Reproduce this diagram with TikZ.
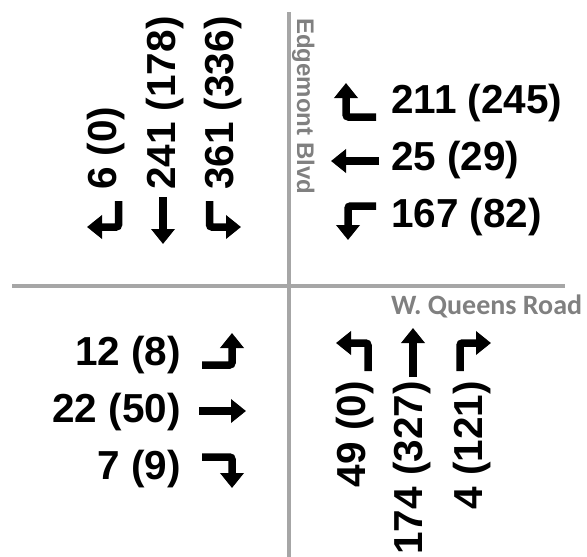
\documentclass[tikz,border=0pt]{standalone}
\usepackage{fontspec}
\setmainfont{Liberation Sans}
\newfontfamily\calfont{Carlito}
\usetikzlibrary{arrows.meta}
\definecolor{roadgray}{HTML}{A6A6A6}
\definecolor{labelgray}{HTML}{808080}
\tikzset{
  num/.style={font=\fontsize{40.5}{40.5}\selectfont\bfseries, inner sep=0pt},
  road/.style={draw=roadgray, line width=4pt},
  arr/.style={line width=7.5pt, -{Triangle[width=23pt,length=15pt]}, rounded corners=2.5pt},
}
\begin{document}
\begin{tikzpicture}[x=1pt,y=-1pt]
\useasboundingbox (0,0) rectangle (587,557);
% roads
\coordinate (vt) at (288.5,12);
\coordinate (vb) at (288.5,557);
\coordinate (hl) at (12,286);
\coordinate (hr) at (565,286);
\draw[road] (vt) -- (vb);
\draw[road] (hl) -- (hr);
\node[anchor=base west, rotate=-90, inner sep=0pt, text=labelgray, font=\fontsize{24}{24}\selectfont\bfseries] (edg) at (297,18) {Edgemont Blvd};
\node[anchor=base west, inner sep=0pt, text=labelgray, font=\fontsize{28}{28}\selectfont\calfont\bfseries] (wq) at (391,314) {W. Queens Road};
% top-left (southbound)
\node[num, rotate=90, anchor=west] (s1) at (106,190) {6 (0)};
\node[num, rotate=90, anchor=west] (s2) at (165,190) {241 (178)};
\node[num, rotate=90, anchor=west] (s3) at (223,190) {361 (336)};
\coordinate (a1s) at (118.5,201); \coordinate (a1m) at (118.5,227); \coordinate (a1e) at (87,227);
\draw[arr] (a1s) -- (a1m) -- (a1e);
\coordinate (a2s) at (163,197); \coordinate (a2e) at (163,244);
\draw[arr] (a2s) -- (a2e);
\coordinate (a3s) at (209.5,201); \coordinate (a3m) at (209.5,227); \coordinate (a3e) at (241,227);
\draw[arr] (a3s) -- (a3m) -- (a3e);
% top-right (westbound)
\node[num, anchor=west] (w1) at (391,103) {211 (245)};
\node[num, anchor=west] (w2) at (391,160) {25 (29)};
\node[num, anchor=west] (w3) at (391,217) {167 (82)};
\coordinate (b1s) at (376,117); \coordinate (b1m) at (346,117); \coordinate (b1e) at (346,83);
\draw[arr] (b1s) -- (b1m) -- (b1e);
\coordinate (b2s) at (379,161); \coordinate (b2e) at (331,161);
\draw[arr] (b2s) -- (b2e);
\coordinate (b3s) at (376,206); \coordinate (b3m) at (348,206); \coordinate (b3e) at (348,240);
\draw[arr] (b3s) -- (b3m) -- (b3e);
% bottom-left (eastbound)
\node[num, anchor=east] (e1) at (181,355) {12 (8)};
\node[num, anchor=east] (e2) at (181,412) {22 (50)};
\node[num, anchor=east] (e3) at (181,469) {7 (9)};
\coordinate (c1s) at (202,365); \coordinate (c1m) at (232,365); \coordinate (c1e) at (232,333);
\draw[arr] (c1s) -- (c1m) -- (c1e);
\coordinate (c2s) at (199,411); \coordinate (c2e) at (246,411);
\draw[arr] (c2s) -- (c2e);
\coordinate (c3s) at (202,457); \coordinate (c3m) at (232,457); \coordinate (c3e) at (232,488);
\draw[arr] (c3s) -- (c3m) -- (c3e);
% bottom-right (northbound)
\node[num, rotate=90, anchor=east] (n1) at (355,381) {49 (0)};
\node[num, rotate=90, anchor=east] (n2) at (412,381) {174 (327)};
\node[num, rotate=90, anchor=east] (n3) at (472,381) {4 (121)};
\coordinate (d1s) at (368,371); \coordinate (d1m) at (368,343); \coordinate (d1e) at (336,343);
\draw[arr] (d1s) -- (d1m) -- (d1e);
\coordinate (d2s) at (413,377); \coordinate (d2e) at (413,328);
\draw[arr] (d2s) -- (d2e);
\coordinate (d3s) at (460,371); \coordinate (d3m) at (460,343); \coordinate (d3e) at (491,343);
\draw[arr] (d3s) -- (d3m) -- (d3e);
\end{tikzpicture}
\end{document}
